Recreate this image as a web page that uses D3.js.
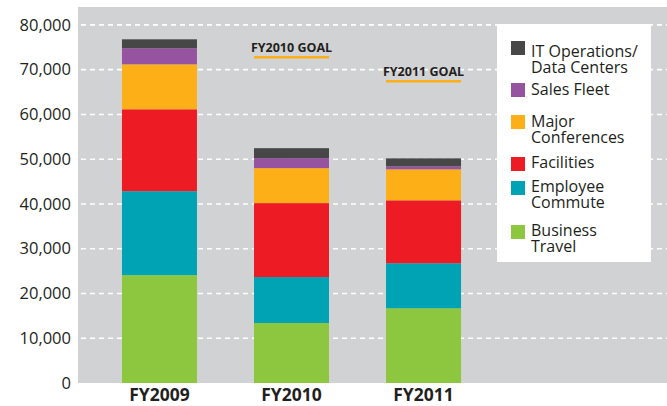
<!DOCTYPE html>
<html>
<head>
<meta charset="utf-8">
<script src="https://cdn.jsdelivr.net/npm/d3@7"></script>
<style>
  body { margin: 0; background: #fff; }
  svg { display: block; font-family: "Open Sans", sans-serif; }
</style>
</head>
<body>
<div id="chart"></div>
<script>
const years = ["FY2009", "FY2010", "FY2011"];
const categories = ["Business Travel", "Employee Commute", "Facilities", "Major Conferences", "Sales Fleet", "IT Operations/Data Centers"];
const businessTravel = [24100, 13400, 16700];
const employeeCommute = [18750, 10270, 10050];
const facilities = [18300, 16520, 14060];
const majorConferences = [10040, 7810, 6920];
const salesFleet = [3580, 2230, 670];
const itOperations = [2010, 2230, 1790];
const goalYears = ["FY2010", "FY2011"];
const goalValues = [72800, 67400];
const yTicks = [0, 10000, 20000, 30000, 40000, 50000, 60000, 70000, 80000];

const COLORS = ["#8dc63f", "#00a3b4", "#ed1c24", "#fcaf17", "#9653a0", "#474748"];
const legendLines = [
  ["IT Operations/", "Data Centers"],
  ["Sales Fleet"],
  ["Major", "Conferences"],
  ["Facilities"],
  ["Employee", "Commute"],
  ["Business", "Travel"]
];
const legendColors = ["#474748", "#9653a0", "#fcaf17", "#ed1c24", "#00a3b4", "#8dc63f"];
const legendSwatchY = [41, 83, 115, 157, 181, 225];
const legendBaseY = [57, 95, 127, 168, 192, 236];

const width = 667;
const height = 406;
const plot = { left: 78, top: 7, bottom: 383, right: 667 };

const series = [businessTravel, employeeCommute, facilities, majorConferences, salesFleet, itOperations];
const table = years.map((yr, i) => {
  const row = { year: yr };
  categories.forEach((c, k) => (row[c] = series[k][i]));
  return row;
});
const stacked = d3.stack().keys(categories)(table);

const svg = d3.select("#chart").append("svg")
  .attr("width", width)
  .attr("height", height);

const x = d3.scaleBand()
  .domain(years)
  .range([plot.left, 505])
  .paddingInner(0.432)
  .paddingOuter(0.333);

const y = d3.scaleLinear()
  .domain([0, 84000])
  .range([plot.bottom, plot.top]);

svg.append("rect")
  .attr("x", plot.left)
  .attr("y", plot.top)
  .attr("width", plot.right - plot.left)
  .attr("height", plot.bottom - plot.top)
  .attr("fill", "#d1d2d4");

// grid
svg.append("g")
  .selectAll("line")
  .data(yTicks.filter((d) => d > 0))
  .enter()
  .append("line")
  .attr("x1", plot.left + 3)
  .attr("x2", plot.right)
  .attr("y1", (d) => y(d))
  .attr("y2", (d) => y(d))
  .attr("stroke", "#fff")
  .attr("stroke-width", 1.6)
  .attr("stroke-dasharray", "5,4");

// y axis labels
const yAxis = svg.append("g")
  .attr("transform", `translate(${plot.left},0)`)
  .call(d3.axisLeft(y).tickValues(yTicks).tickFormat(d3.format(",")).tickSize(0).tickPadding(7));
yAxis.select(".domain").remove();
yAxis.selectAll("text")
  .attr("font-family", "Open Sans, sans-serif")
  .attr("font-size", 16.5)
  .attr("fill", "#231f20");

// bars
svg.append("g")
  .selectAll("g")
  .data(stacked)
  .enter()
  .append("g")
  .attr("fill", (d, i) => COLORS[i])
  .selectAll("rect")
  .data((d) => d)
  .enter()
  .append("rect")
  .attr("x", (d) => x(d.data.year))
  .attr("y", (d) => y(d[1]))
  .attr("width", x.bandwidth())
  .attr("height", (d) => y(d[0]) - y(d[1]));

// x axis labels
const xAxis = svg.append("g")
  .attr("transform", `translate(0,${plot.bottom})`)
  .call(d3.axisBottom(x).tickSize(0).tickPadding(6));
xAxis.select(".domain").remove();
xAxis.selectAll("text")
  .attr("font-family", "Open Sans, sans-serif")
  .attr("font-size", 17.5)
  .attr("font-weight", "bold")
  .attr("fill", "#231f20");

// goals
const goals = svg.append("g")
  .selectAll("g")
  .data(goalYears.map((g, i) => ({ year: g, value: goalValues[i] })))
  .enter()
  .append("g");
goals.append("line")
  .attr("x1", (d) => x(d.year))
  .attr("x2", (d) => x(d.year) + x.bandwidth())
  .attr("y1", (d) => y(d.value))
  .attr("y2", (d) => y(d.value))
  .attr("stroke", "#fcaf17")
  .attr("stroke-width", 2.5);
goals.append("text")
  .attr("x", (d) => x(d.year) + x.bandwidth() / 2)
  .attr("y", (d) => y(d.value) - 5)
  .attr("text-anchor", "middle")
  .attr("font-size", 12.5)
  .attr("font-weight", "bold")
  .attr("fill", "#231f20")
  .text((d) => d.year + " GOAL");

// legend
const legend = svg.append("g");
legend.append("rect")
  .attr("x", 497)
  .attr("y", 24)
  .attr("width", 154)
  .attr("height", 238)
  .attr("fill", "#fff");
const items = legend.selectAll(".item")
  .data(legendLines)
  .enter()
  .append("g")
  .attr("class", "item");
items.append("rect")
  .attr("x", 511)
  .attr("y", (d, i) => legendSwatchY[i])
  .attr("width", 14)
  .attr("height", 14)
  .attr("fill", (d, i) => legendColors[i]);
items.each(function (lines, i) {
  d3.select(this)
    .selectAll("text")
    .data(lines)
    .enter()
    .append("text")
    .attr("x", 531)
    .attr("y", (d, j) => legendBaseY[i] + j * 15.7)
    .attr("font-size", 16)
    .attr("fill", "#231f20")
    .text((d) => d);
});
</script>
</body>
</html>
